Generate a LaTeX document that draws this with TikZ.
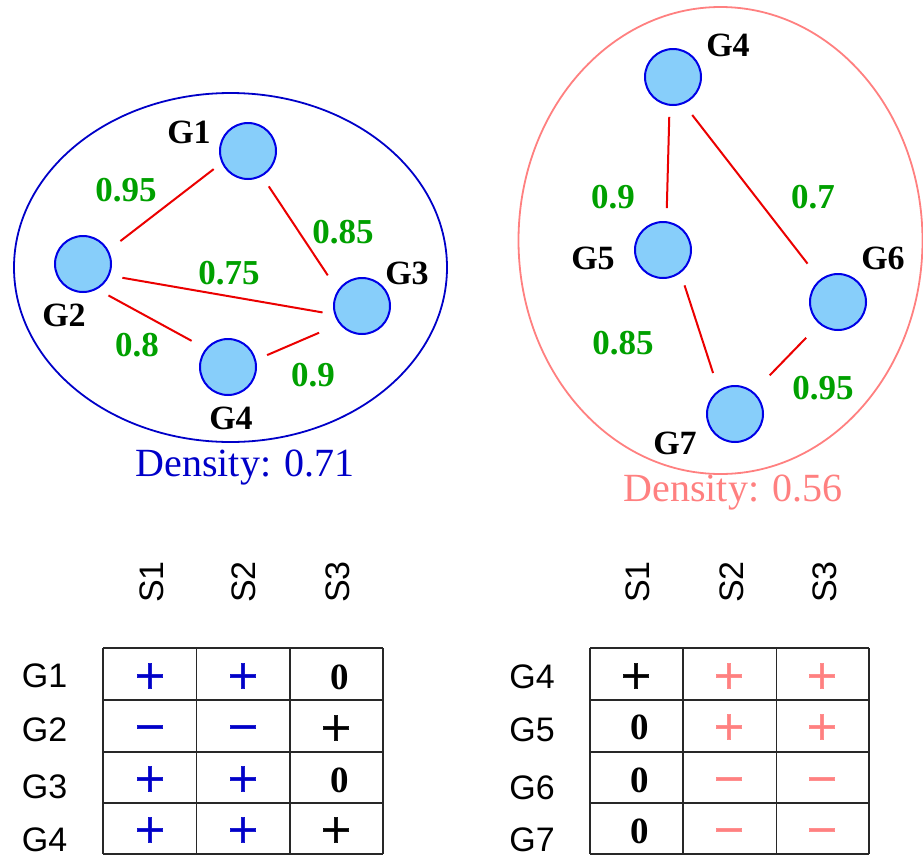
\documentclass[tikz,border=0pt]{standalone}
\usepackage{fontspec}
\setmainfont{Liberation Serif}
\setsansfont{Liberation Sans}
\newfontfamily\dvs[FakeBold=1.2]{DejaVu Sans}
\definecolor{cblue}{RGB}{0,0,200}
\definecolor{nodeblue}{RGB}{0,0,230}
\definecolor{nfill}{RGB}{135,206,250}
\definecolor{cgreen}{RGB}{0,160,0}
\definecolor{salmon}{RGB}{255,128,128}
\definecolor{ered}{RGB}{235,0,0}
\definecolor{tgray}{RGB}{40,40,40}
\newcommand{\mns}{\makebox[0pt][l]{−}\phantom{+}}
\begin{document}
\begin{tikzpicture}[x=1pt,y=-1pt,
  gene/.style={circle,draw=nodeblue,fill=nfill,line width=2pt,minimum size=56pt,inner sep=0pt,outer sep=0pt},
  glabel/.style={font=\fontsize{34}{40}\selectfont\bfseries,inner sep=0pt},
  wlabel/.style={font=\fontsize{35}{40}\selectfont\bfseries,text=cgreen,inner sep=0pt},
  edge/.style={draw=ered,line width=2pt},
  dens/.style={font=\fontsize{40}{44}\selectfont,inner sep=0pt},
  hdr/.style={font=\sffamily\fontsize{34}{40}\selectfont,rotate=90,anchor=west,inner sep=0pt},
  rlab/.style={font=\sffamily\fontsize{34}{40}\selectfont,inner sep=0pt},
  sym/.style={font=\dvs\fontsize{40}{44}\selectfont,inner sep=0pt},
  zero/.style={font=\fontsize{37}{40}\selectfont\bfseries,inner sep=0pt},
  tline/.style={draw=tgray,line width=1.2pt}
]
\useasboundingbox (0,0) rectangle (923,857);

% ---------- left cluster ----------
\draw[cblue,line width=1.8pt] (230.5,267.5) ellipse [x radius=216.5, y radius=174.5];
\node[gene] (a1) at (248,151) {};
\node[gene] (a2) at (83,264) {};
\node[gene] (a3) at (362,306) {};
\node[gene] (a4) at (228,367) {};
\node[glabel] (la1) at (189,132) {G1};
\node[glabel] (la2) at (64,315) {G2};
\node[glabel] (la3) at (407,273) {G3};
\node[glabel] (la4) at (231,418) {G4};
\draw[edge,shorten <=11pt,shorten >=16pt] (a1.204) -- (a2.28);
\draw[edge,shorten <=13pt,shorten >=19pt] (a1.-61) -- (a3.148);
\draw[edge,shorten <=14pt,shorten >=13pt] (a2.-24) -- (a3.198);
\draw[edge,shorten <=14pt,shorten >=17pt] (a2.-62) -- (a4.140);
\draw[edge,shorten <=13pt,shorten >=23pt] (a4.14) -- (a3.219);
\node[wlabel] (wa12) at (126,190) {0.95};
\node[wlabel] (wa13) at (343,232) {0.85};
\node[wlabel] (wa23) at (229,273) {0.75};
\node[wlabel] (wa24) at (137,345) {0.8};
\node[wlabel] (wa43) at (313,375) {0.9};
\node[dens,text=cblue] (da) at (245,468) {Density: 0.71};

% ---------- right cluster ----------
\draw[salmon,line width=1.8pt] (720.5,240.5) ellipse [x radius=202, y radius=233.5];
\node[gene] (b4) at (673,77) {};
\node[gene] (b5) at (663,250) {};
\node[gene] (b6) at (838,302) {};
\node[gene] (b7) at (735,414) {};
\node[glabel] (lb4) at (728,45) {G4};
\node[glabel] (lb5) at (593,258) {G5};
\node[glabel] (lb6) at (883,258) {G6};
\node[glabel] (lb7) at (675,443) {G7};
\draw[edge,shorten <=12pt,shorten >=14pt] (b4.263) -- (b5.83);
\draw[edge,shorten <=15pt,shorten >=21pt] (b4.-69) -- (b6.129);
\draw[edge,shorten <=14pt,shorten >=19pt] (b5.-52) -- (b7.125);
\draw[edge,shorten <=20pt,shorten >=24pt] (b6.230) -- (b7.50);
\node[wlabel] (wb45) at (613,197) {0.9};
\node[wlabel] (wb46) at (813,197) {0.7};
\node[wlabel] (wb57) at (623,343) {0.85};
\node[wlabel] (wb67) at (823,388) {0.95};
\node[dens,text=salmon] (db) at (733,493) {Density: 0.56};

% ---------- left table ----------
\foreach \x in {103,196.5,290,383} \draw[tline] (\x,648) -- (\x,854);
\foreach \y in {648,700,752,803,854} \draw[tline] (103,\y) -- (383,\y);
\node[hdr] (ha1) at (152,603) {S1};
\node[hdr] (ha2) at (244,603) {S2};
\node[hdr] (ha3) at (338,603) {S3};
\node[rlab] (ra1) at (44.5,676) {G1};
\node[rlab] (ra2) at (44.5,730) {G2};
\node[rlab] (ra3) at (44.5,787) {G3};
\node[rlab] (ra4) at (44.5,840) {G4};
\node[sym,text=cblue] at (150,676) {+};
\node[sym,text=cblue] at (243,676) {+};
\node[zero] at (340,677) {0};
\node[sym,text=cblue] at (150,727) {\mns};
\node[sym,text=cblue] at (243,727) {\mns};
\node[sym] at (336,728) {+};
\node[sym,text=cblue] at (150,779) {+};
\node[sym,text=cblue] at (243,779) {+};
\node[zero] at (340,780) {0};
\node[sym,text=cblue] at (150,830) {+};
\node[sym,text=cblue] at (243,830) {+};
\node[sym] at (336,830) {+};

% ---------- right table ----------
\foreach \x in {590,683,776.5,869} \draw[tline] (\x,648) -- (\x,854);
\foreach \y in {648,700,752,803,854} \draw[tline] (590,\y) -- (869,\y);
\node[hdr] (hb1) at (638,603) {S1};
\node[hdr] (hb2) at (732,603) {S2};
\node[hdr] (hb3) at (825,603) {S3};
\node[rlab] (rb4) at (532,677) {G4};
\node[rlab] (rb5) at (532,730) {G5};
\node[rlab] (rb6) at (532,788) {G6};
\node[rlab] (rb7) at (532,840) {G7};
\node[sym] at (636,676) {+};
\node[sym,text=salmon] at (729,676) {+};
\node[sym,text=salmon] at (822,676) {+};
\node[zero] at (640,727) {0};
\node[sym,text=salmon] at (729,727) {+};
\node[sym,text=salmon] at (822,727) {+};
\node[zero] at (640,780) {0};
\node[sym,text=salmon] at (729,779) {\mns};
\node[sym,text=salmon] at (822,779) {\mns};
\node[zero] at (640,831) {0};
\node[sym,text=salmon] at (729,830) {\mns};
\node[sym,text=salmon] at (822,830) {\mns};
\end{tikzpicture}
\end{document}
